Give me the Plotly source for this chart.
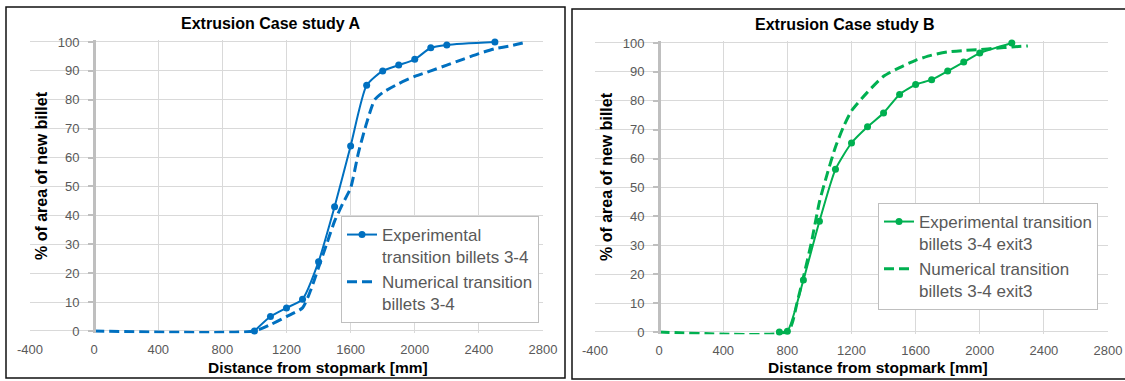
import plotly.graph_objects as go

# ---------------- data ----------------
# Case study A
exp_a_x = [1000, 1100, 1200, 1300, 1400, 1500, 1600, 1700, 1800, 1900, 2000, 2100, 2200, 2500]
exp_a_y = [0, 5, 8, 11, 24, 43, 64, 85, 90, 92, 94, 98, 99, 100]
num_a_x = [0, 1000, 1100, 1200, 1300, 1350, 1400, 1450, 1500, 1550, 1600, 1650, 1700, 1750,
           1800, 1900, 2000, 2100, 2200, 2300, 2400, 2500, 2600, 2700]
num_a_y = [0, 0, 2.2, 5, 8, 14, 22, 30, 38, 44, 49.5, 62, 72, 80,
           82.5, 85.6, 88.1, 90, 92, 94, 96, 97.7, 98.7, 100]

# Case study B
exp_b_x = [750, 800, 900, 1000, 1100, 1200, 1300, 1400, 1500, 1600, 1700, 1800, 1900, 2000, 2200]
exp_b_y = [0, 0.3, 18, 38.3, 56.3, 65.4, 71, 75.8, 82.2, 85.6, 87.3, 90.3, 93.4, 96.5, 100]
num_b_x = [0, 800, 830, 860, 900, 950, 1000, 1050, 1100, 1150, 1200, 1300, 1400, 1500,
           1600, 1700, 1800, 1900, 2000, 2100, 2200, 2300]
num_b_y = [0, 0, 3, 10, 19, 31, 45, 55, 64, 71, 76.5, 83, 88.5, 91.5,
           94, 95.8, 96.9, 97.4, 97.7, 98.2, 98.6, 99]

x_ticks = [-400, 0, 400, 800, 1200, 1600, 2000, 2400, 2800]
y_ticks = [0, 10, 20, 30, 40, 50, 60, 70, 80, 90, 100]

titles = ["Extrusion Case study A", "Extrusion Case study B"]
x_title = "Distance from stopmark [mm]"
y_title = "% of area of new billet"

BLUE = "#0070C0"
GREEN = "#00B050"
W, H = 1125, 381
FONT = "Liberation Sans"
GRAY_TXT = "#595959"

def px(x):
    return x / W

def py(y):
    return 1 - y / H

YR = [-0.8, 100.8]
XR = [-400, 2800]

def ydomain(p0, p100):
    per = (p0 - p100) / 100.0
    bottom = p0 + (0 - YR[0]) * per
    top = p100 - (YR[1] - 100) * per
    return [py(bottom), py(top)]

# plot-area pixel geometry
left_plot = dict(x0=30, x1=543, y0=331, y100=42)
right_plot = dict(x0=595, x1=1108, y0=332, y100=43)

fig = go.Figure()

fig.add_trace(go.Scatter(
    x=exp_a_x, y=exp_a_y, mode="lines+markers", name="Experimental<br>transition billets 3-4",
    line=dict(color=BLUE, width=2, shape="spline", smoothing=0.6),
    marker=dict(color=BLUE, size=7), xaxis="x", yaxis="y", legend="legend", cliponaxis=False))
fig.add_trace(go.Scatter(
    x=num_a_x, y=num_a_y, mode="lines", name="Numerical transition<br>billets 3-4",
    line=dict(color=BLUE, width=3, dash="10px,5px", shape="spline", smoothing=0.6),
    xaxis="x", yaxis="y", legend="legend"))
fig.add_trace(go.Scatter(
    x=exp_b_x, y=exp_b_y, mode="lines+markers", name="Experimental transition<br>billets 3-4 exit3",
    line=dict(color=GREEN, width=2, shape="spline", smoothing=0.6),
    marker=dict(color=GREEN, size=7), xaxis="x2", yaxis="y2", legend="legend2", cliponaxis=False))
fig.add_trace(go.Scatter(
    x=num_b_x, y=num_b_y, mode="lines", name="Numerical transition<br>billets 3-4 exit3",
    line=dict(color=GREEN, width=3, dash="10px,5px", shape="spline", smoothing=0.6),
    xaxis="x2", yaxis="y2", legend="legend2"))

def xaxis_cfg(geom, anchor):
    return dict(domain=[px(geom["x0"]), px(geom["x1"])], range=XR, anchor=anchor,
                tickvals=x_ticks, ticktext=[str(v) for v in x_ticks],
                showgrid=True, gridcolor="#D9D9D9", gridwidth=1, zeroline=False,
                showline=False, ticks="", ticklabelstandoff=7, automargin=False,
                tickfont=dict(family=FONT, size=13, color=GRAY_TXT), fixedrange=True)

def yaxis_cfg(geom):
    d = [px(geom["x0"]), px(geom["x1"])]
    pos = d[0] + (0 - XR[0]) / (XR[1] - XR[0]) * (d[1] - d[0])
    return dict(domain=ydomain(geom["y0"], geom["y100"]), range=YR, anchor="free", position=pos,
                tickvals=y_ticks, ticktext=[str(v) for v in y_ticks],
                showgrid=True, gridcolor="#D9D9D9", gridwidth=1, zeroline=False,
                showline=True, linecolor="#BFBFBF", linewidth=2.5,
                ticks="outside", ticklen=5, tickwidth=2, tickcolor="#BFBFBF",
                ticklabelstandoff=6, automargin=False,
                tickfont=dict(family=FONT, size=13, color=GRAY_TXT), fixedrange=True)

legend_common = dict(xanchor="left", yanchor="top",
                     bordercolor="#BFBFBF", borderwidth=1, bgcolor="white",
                     font=dict(family=FONT, size=17, color=GRAY_TXT), valign="top",
                     tracegroupgap=0)

fig.update_layout(
    width=W, height=H, margin=dict(l=0, r=0, t=0, b=0, autoexpand=False),
    paper_bgcolor="white", plot_bgcolor="white",
    font=dict(family=FONT, color=GRAY_TXT),
    xaxis=xaxis_cfg(left_plot, "y"),
    yaxis=yaxis_cfg(left_plot),
    xaxis2=xaxis_cfg(right_plot, "y2"),
    yaxis2=yaxis_cfg(right_plot),
    legend=dict(x=px(341), y=py(216), **legend_common),
    legend2=dict(x=px(878), y=py(203), **legend_common),
    showlegend=True,
)

annotations = []
# chart titles
for cx, cy, t in [(270, 23, titles[0]), (845, 24, titles[1])]:
    annotations.append(dict(x=px(cx), y=py(cy), xref="paper", yref="paper", text="<b>%s</b>" % t,
                            showarrow=False, xanchor="center", yanchor="middle",
                            font=dict(family=FONT, size=16, color="black")))
# axis titles
for cx, cy in [(318, 367), (878, 367)]:
    annotations.append(dict(x=px(cx), y=py(cy), xref="paper", yref="paper", text="<b>%s</b>" % x_title,
                            showarrow=False, xanchor="center", yanchor="middle",
                            font=dict(family=FONT, size=15.5, color="black")))
for cx, cy in [(41, 176), (606, 177)]:
    annotations.append(dict(x=px(cx), y=py(cy), xref="paper", yref="paper", text="<b>%s</b>" % y_title,
                            showarrow=False, xanchor="center", yanchor="middle", textangle=-90,
                            font=dict(family=FONT, size=16, color="black")))
fig.update_layout(annotations=annotations)

# panel borders
fig.add_shape(type="rect", xref="paper", yref="paper", x0=px(6), x1=px(565), y0=py(378), y1=py(7),
              line=dict(color="#111111", width=1.5), layer="above")
fig.add_shape(type="rect", xref="paper", yref="paper", x0=px(572), x1=px(1140), y0=py(379), y1=py(9),
              line=dict(color="#111111", width=1.5), layer="above")

fig.write_html("out.html", config={"displayModeBar": False, "staticPlot": True},
               post_script="document.body.style.margin='0';document.body.style.overflow='hidden';")
